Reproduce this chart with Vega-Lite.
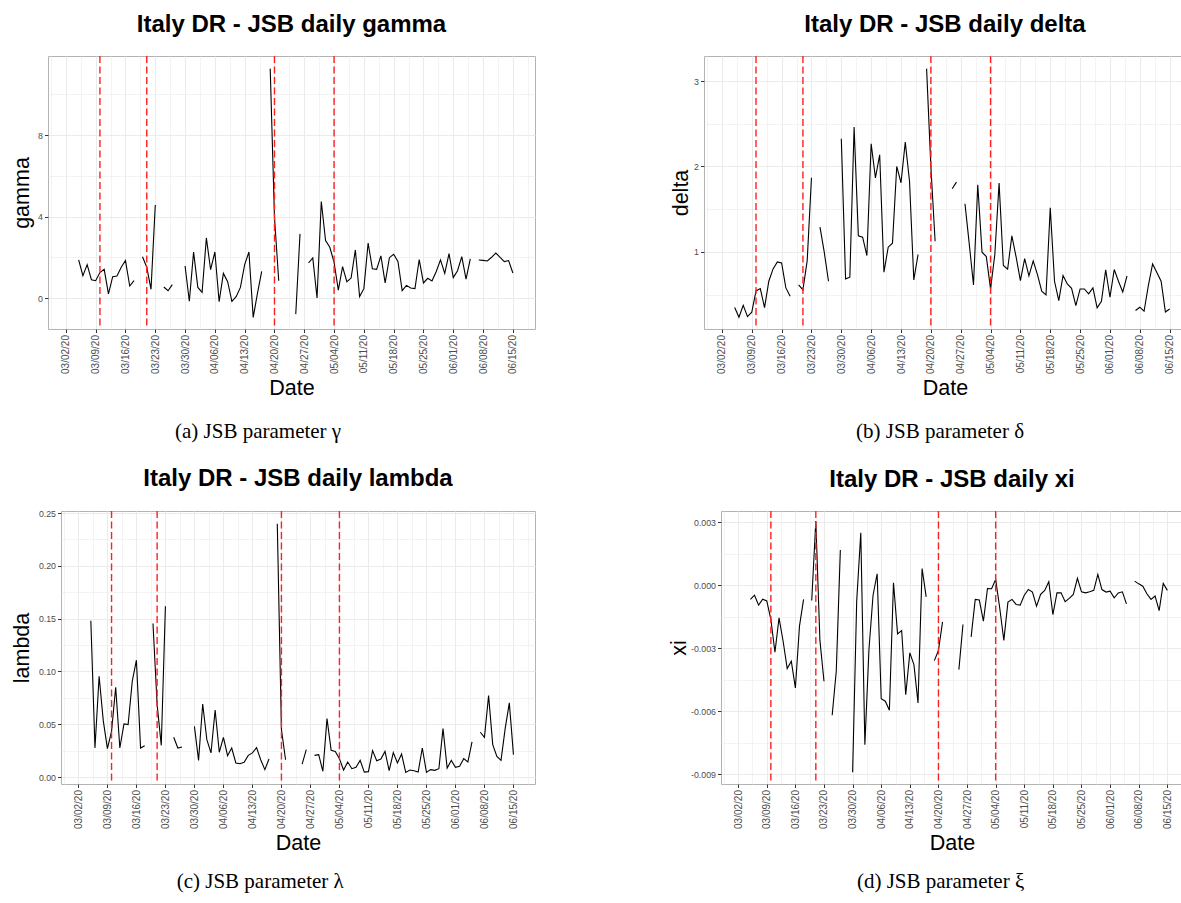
{
 "$schema": "https://vega.github.io/schema/vega-lite/v6.json",
 "background": "white",
 "padding": {"left": 9, "top": 12, "right": 0, "bottom": 0},
 "spacing": 23,
 "align": "none",
 "datasets": {
  "vlines": [{"d": "2020-03-10"}, {"d": "2020-03-21"}, {"d": "2020-04-20"}, {"d": "2020-05-04"}],
  "gamma": [
   {"d":"2020-03-05","v":1.87},{"d":"2020-03-06","v":1.10},{"d":"2020-03-07","v":1.64},{"d":"2020-03-08","v":0.90},{"d":"2020-03-09","v":0.85},{"d":"2020-03-10","v":1.25},{"d":"2020-03-11","v":1.41},{"d":"2020-03-12","v":0.20},{"d":"2020-03-13","v":1.05},{"d":"2020-03-14","v":1.08},{"d":"2020-03-15","v":1.51},{"d":"2020-03-16","v":1.84},{"d":"2020-03-17","v":0.59},{"d":"2020-03-18","v":0.85},{"d":"2020-03-19","v":null},
   {"d":"2020-03-20","v":2.03},{"d":"2020-03-21","v":1.51},{"d":"2020-03-22","v":0.43},{"d":"2020-03-23","v":4.57},{"d":"2020-03-24","v":null},
   {"d":"2020-03-25","v":0.54},{"d":"2020-03-26","v":0.36},{"d":"2020-03-27","v":0.66},{"d":"2020-03-28","v":null},{"d":"2020-03-29","v":null},
   {"d":"2020-03-30","v":1.57},{"d":"2020-03-31","v":-0.16},{"d":"2020-04-01","v":2.26},{"d":"2020-04-02","v":0.52},{"d":"2020-04-03","v":0.28},{"d":"2020-04-04","v":2.95},{"d":"2020-04-05","v":1.39},{"d":"2020-04-06","v":2.26},{"d":"2020-04-07","v":-0.18},{"d":"2020-04-08","v":1.21},{"d":"2020-04-09","v":0.80},{"d":"2020-04-10","v":-0.16},{"d":"2020-04-11","v":0.07},{"d":"2020-04-12","v":0.52},{"d":"2020-04-13","v":1.64},{"d":"2020-04-14","v":2.26},{"d":"2020-04-15","v":-0.95},{"d":"2020-04-16","v":0.23},{"d":"2020-04-17","v":1.31},{"d":"2020-04-18","v":null},
   {"d":"2020-04-19","v":11.26},{"d":"2020-04-20","v":3.97},{"d":"2020-04-21","v":0.85},{"d":"2020-04-22","v":null},{"d":"2020-04-23","v":null},{"d":"2020-04-24","v":null},
   {"d":"2020-04-25","v":-0.79},{"d":"2020-04-26","v":3.15},{"d":"2020-04-27","v":null},
   {"d":"2020-04-28","v":1.72},{"d":"2020-04-29","v":1.97},{"d":"2020-04-30","v":0.00},{"d":"2020-05-01","v":4.74},{"d":"2020-05-02","v":2.82},{"d":"2020-05-03","v":2.49},{"d":"2020-05-04","v":1.75},{"d":"2020-05-05","v":0.39},{"d":"2020-05-06","v":1.54},{"d":"2020-05-07","v":0.80},{"d":"2020-05-08","v":0.98},{"d":"2020-05-09","v":2.36},{"d":"2020-05-10","v":0.07},{"d":"2020-05-11","v":0.46},{"d":"2020-05-12","v":2.70},{"d":"2020-05-13","v":1.44},{"d":"2020-05-14","v":1.41},{"d":"2020-05-15","v":2.07},{"d":"2020-05-16","v":0.74},{"d":"2020-05-17","v":1.98},{"d":"2020-05-18","v":2.15},{"d":"2020-05-19","v":1.80},{"d":"2020-05-20","v":0.36},{"d":"2020-05-21","v":0.62},{"d":"2020-05-22","v":0.49},{"d":"2020-05-23","v":0.46},{"d":"2020-05-24","v":1.89},{"d":"2020-05-25","v":0.74},{"d":"2020-05-26","v":0.97},{"d":"2020-05-27","v":0.84},{"d":"2020-05-28","v":1.30},{"d":"2020-05-29","v":1.87},{"d":"2020-05-30","v":1.21},{"d":"2020-05-31","v":2.18},{"d":"2020-06-01","v":1.00},{"d":"2020-06-02","v":1.34},{"d":"2020-06-03","v":2.03},{"d":"2020-06-04","v":0.93},{"d":"2020-06-05","v":1.92},{"d":"2020-06-06","v":null},
   {"d":"2020-06-07","v":1.87},{"d":"2020-06-08","v":1.85},{"d":"2020-06-09","v":1.82},{"d":"2020-06-10","v":2.00},{"d":"2020-06-11","v":2.21},{"d":"2020-06-12","v":2.00},{"d":"2020-06-13","v":1.79},{"d":"2020-06-14","v":1.84},{"d":"2020-06-15","v":1.23}
  ],
  "delta": [
   {"d":"2020-03-05","v":0.348},{"d":"2020-03-06","v":0.234},{"d":"2020-03-07","v":0.375},{"d":"2020-03-08","v":0.242},{"d":"2020-03-09","v":0.293},{"d":"2020-03-10","v":0.543},{"d":"2020-03-11","v":0.570},{"d":"2020-03-12","v":0.348},{"d":"2020-03-13","v":0.656},{"d":"2020-03-14","v":0.801},{"d":"2020-03-15","v":0.883},{"d":"2020-03-16","v":0.871},{"d":"2020-03-17","v":0.578},{"d":"2020-03-18","v":0.480},{"d":"2020-03-19","v":null},
   {"d":"2020-03-20","v":0.613},{"d":"2020-03-21","v":0.555},{"d":"2020-03-22","v":0.898},{"d":"2020-03-23","v":1.867},{"d":"2020-03-24","v":null},
   {"d":"2020-03-25","v":1.289},{"d":"2020-03-26","v":0.996},{"d":"2020-03-27","v":0.656},{"d":"2020-03-28","v":null},{"d":"2020-03-29","v":null},
   {"d":"2020-03-30","v":2.324},{"d":"2020-03-31","v":0.684},{"d":"2020-04-01","v":0.703},{"d":"2020-04-02","v":2.461},{"d":"2020-04-03","v":1.188},{"d":"2020-04-04","v":1.172},{"d":"2020-04-05","v":0.957},{"d":"2020-04-06","v":2.266},{"d":"2020-04-07","v":1.867},{"d":"2020-04-08","v":2.137},{"d":"2020-04-09","v":0.762},{"d":"2020-04-10","v":1.055},{"d":"2020-04-11","v":1.102},{"d":"2020-04-12","v":2.000},{"d":"2020-04-13","v":1.809},{"d":"2020-04-14","v":2.285},{"d":"2020-04-15","v":1.824},{"d":"2020-04-16","v":0.672},{"d":"2020-04-17","v":0.969},{"d":"2020-04-18","v":null},
   {"d":"2020-04-19","v":3.145},{"d":"2020-04-20","v":2.000},{"d":"2020-04-21","v":1.125},{"d":"2020-04-22","v":null},{"d":"2020-04-23","v":null},{"d":"2020-04-24","v":null},
   {"d":"2020-04-25","v":1.738},{"d":"2020-04-26","v":1.816},{"d":"2020-04-27","v":null},
   {"d":"2020-04-28","v":1.563},{"d":"2020-04-29","v":1.094},{"d":"2020-04-30","v":0.613},{"d":"2020-05-01","v":1.785},{"d":"2020-05-02","v":0.996},{"d":"2020-05-03","v":0.945},{"d":"2020-05-04","v":0.566},{"d":"2020-05-05","v":0.969},{"d":"2020-05-06","v":1.805},{"d":"2020-05-07","v":0.840},{"d":"2020-05-08","v":0.797},{"d":"2020-05-09","v":1.188},{"d":"2020-05-10","v":0.938},{"d":"2020-05-11","v":0.664},{"d":"2020-05-12","v":0.922},{"d":"2020-05-13","v":0.719},{"d":"2020-05-14","v":0.895},{"d":"2020-05-15","v":0.734},{"d":"2020-05-16","v":0.539},{"d":"2020-05-17","v":0.496},{"d":"2020-05-18","v":1.516},{"d":"2020-05-19","v":0.656},{"d":"2020-05-20","v":0.430},{"d":"2020-05-21","v":0.723},{"d":"2020-05-22","v":0.625},{"d":"2020-05-23","v":0.574},{"d":"2020-05-24","v":0.371},{"d":"2020-05-25","v":0.566},{"d":"2020-05-26","v":0.566},{"d":"2020-05-27","v":0.508},{"d":"2020-05-28","v":0.578},{"d":"2020-05-29","v":0.344},{"d":"2020-05-30","v":0.422},{"d":"2020-05-31","v":0.789},{"d":"2020-06-01","v":0.469},{"d":"2020-06-02","v":0.793},{"d":"2020-06-03","v":0.656},{"d":"2020-06-04","v":0.531},{"d":"2020-06-05","v":0.719},{"d":"2020-06-06","v":null},
   {"d":"2020-06-07","v":0.313},{"d":"2020-06-08","v":0.352},{"d":"2020-06-09","v":0.305},{"d":"2020-06-10","v":0.605},{"d":"2020-06-11","v":0.859},{"d":"2020-06-12","v":0.758},{"d":"2020-06-13","v":0.656},{"d":"2020-06-14","v":0.297},{"d":"2020-06-15","v":0.332}
  ],
  "lambda": [
   {"d":"2020-03-05","v":0.148},{"d":"2020-03-06","v":0.0275},{"d":"2020-03-07","v":0.0954},{"d":"2020-03-08","v":0.0534},{"d":"2020-03-09","v":0.0269},{"d":"2020-03-10","v":0.0433},{"d":"2020-03-11","v":0.0850},{"d":"2020-03-12","v":0.0275},{"d":"2020-03-13","v":0.0503},{"d":"2020-03-14","v":0.0496},{"d":"2020-03-15","v":0.0907},{"d":"2020-03-16","v":0.1106},{"d":"2020-03-17","v":0.0275},{"d":"2020-03-18","v":0.0297},{"d":"2020-03-19","v":null},
   {"d":"2020-03-20","v":0.1454},{"d":"2020-03-21","v":0.0686},{"d":"2020-03-22","v":0.0300},{"d":"2020-03-23","v":0.1618},{"d":"2020-03-24","v":null},
   {"d":"2020-03-25","v":0.0376},{"d":"2020-03-26","v":0.0275},{"d":"2020-03-27","v":0.0284},{"d":"2020-03-28","v":null},{"d":"2020-03-29","v":null},
   {"d":"2020-03-30","v":0.0480},{"d":"2020-03-31","v":0.0158},{"d":"2020-04-01","v":0.0692},{"d":"2020-04-02","v":0.0354},{"d":"2020-04-03","v":0.0228},{"d":"2020-04-04","v":0.0635},{"d":"2020-04-05","v":0.0234},{"d":"2020-04-06","v":0.0376},{"d":"2020-04-07","v":0.0202},{"d":"2020-04-08","v":0.0275},{"d":"2020-04-09","v":0.0133},{"d":"2020-04-10","v":0.0126},{"d":"2020-04-11","v":0.0139},{"d":"2020-04-12","v":0.0205},{"d":"2020-04-13","v":0.0228},{"d":"2020-04-14","v":0.0278},{"d":"2020-04-15","v":0.0164},{"d":"2020-04-16","v":0.0070},{"d":"2020-04-17","v":0.0171},{"d":"2020-04-18","v":null},
   {"d":"2020-04-19","v":0.2399},{"d":"2020-04-20","v":0.0450},{"d":"2020-04-21","v":0.0164},{"d":"2020-04-22","v":null},{"d":"2020-04-23","v":null},{"d":"2020-04-24","v":null},
   {"d":"2020-04-25","v":0.0123},{"d":"2020-04-26","v":0.0259},{"d":"2020-04-27","v":null},
   {"d":"2020-04-28","v":0.0205},{"d":"2020-04-29","v":0.0212},{"d":"2020-04-30","v":0.0054},{"d":"2020-05-01","v":0.0553},{"d":"2020-05-02","v":0.0253},{"d":"2020-05-03","v":0.0243},{"d":"2020-05-04","v":0.0174},{"d":"2020-05-05","v":0.0066},{"d":"2020-05-06","v":0.0142},{"d":"2020-05-07","v":0.0079},{"d":"2020-05-08","v":0.0092},{"d":"2020-05-09","v":0.0158},{"d":"2020-05-10","v":0.0047},{"d":"2020-05-11","v":0.0051},{"d":"2020-05-12","v":0.0250},{"d":"2020-05-13","v":0.0155},{"d":"2020-05-14","v":0.0171},{"d":"2020-05-15","v":0.0243},{"d":"2020-05-16","v":0.0060},{"d":"2020-05-17","v":0.0231},{"d":"2020-05-18","v":0.0133},{"d":"2020-05-19","v":0.0218},{"d":"2020-05-20","v":0.0044},{"d":"2020-05-21","v":0.0066},{"d":"2020-05-22","v":0.0060},{"d":"2020-05-23","v":0.0047},{"d":"2020-05-24","v":0.0275},{"d":"2020-05-25","v":0.0044},{"d":"2020-05-26","v":0.0070},{"d":"2020-05-27","v":0.0063},{"d":"2020-05-28","v":0.0079},{"d":"2020-05-29","v":0.0458},{"d":"2020-05-30","v":0.0085},{"d":"2020-05-31","v":0.0158},{"d":"2020-06-01","v":0.0092},{"d":"2020-06-02","v":0.0101},{"d":"2020-06-03","v":0.0174},{"d":"2020-06-04","v":0.0142},{"d":"2020-06-05","v":0.0332},{"d":"2020-06-06","v":null},
   {"d":"2020-06-07","v":0.0424},{"d":"2020-06-08","v":0.0376},{"d":"2020-06-09","v":0.0771},{"d":"2020-06-10","v":0.0307},{"d":"2020-06-11","v":0.0196},{"d":"2020-06-12","v":0.0158},{"d":"2020-06-13","v":0.0458},{"d":"2020-06-14","v":0.0702},{"d":"2020-06-15","v":0.0212}
  ],
  "xi": [
   {"d":"2020-03-05","v":-0.00068},{"d":"2020-03-06","v":-0.00048},{"d":"2020-03-07","v":-0.00095},{"d":"2020-03-08","v":-0.00067},{"d":"2020-03-09","v":-0.00075},{"d":"2020-03-10","v":-0.00163},{"d":"2020-03-11","v":-0.00319},{"d":"2020-03-12","v":-0.00156},{"d":"2020-03-13","v":-0.00267},{"d":"2020-03-14","v":-0.00397},{"d":"2020-03-15","v":-0.00362},{"d":"2020-03-16","v":-0.00489},{"d":"2020-03-17","v":-0.00195},{"d":"2020-03-18","v":-0.00068},{"d":"2020-03-19","v":null},
   {"d":"2020-03-20","v":-0.00073},{"d":"2020-03-21","v":0.00305},{"d":"2020-03-22","v":-0.00263},{"d":"2020-03-23","v":-0.00457},{"d":"2020-03-24","v":null},
   {"d":"2020-03-25","v":-0.00619},{"d":"2020-03-26","v":-0.00410},{"d":"2020-03-27","v":0.00167},{"d":"2020-03-28","v":null},{"d":"2020-03-29","v":null},
   {"d":"2020-03-30","v":-0.00890},{"d":"2020-03-31","v":-0.00076},{"d":"2020-04-01","v":0.00249},{"d":"2020-04-02","v":-0.00759},{"d":"2020-04-03","v":-0.00306},{"d":"2020-04-04","v":-0.00048},{"d":"2020-04-05","v":0.00054},{"d":"2020-04-06","v":-0.00540},{"d":"2020-04-07","v":-0.00552},{"d":"2020-04-08","v":-0.00595},{"d":"2020-04-09","v":0.00011},{"d":"2020-04-10","v":-0.00232},{"d":"2020-04-11","v":-0.00216},{"d":"2020-04-12","v":-0.00521},{"d":"2020-04-13","v":-0.00322},{"d":"2020-04-14","v":-0.00378},{"d":"2020-04-15","v":-0.00560},{"d":"2020-04-16","v":0.00079},{"d":"2020-04-17","v":-0.00056},{"d":"2020-04-18","v":null},
   {"d":"2020-04-19","v":-0.00359},{"d":"2020-04-20","v":-0.00311},{"d":"2020-04-21","v":-0.00175},{"d":"2020-04-22","v":null},{"d":"2020-04-23","v":null},{"d":"2020-04-24","v":null},
   {"d":"2020-04-25","v":-0.00402},{"d":"2020-04-26","v":-0.00187},{"d":"2020-04-27","v":null},
   {"d":"2020-04-28","v":-0.00246},{"d":"2020-04-29","v":-0.00068},{"d":"2020-04-30","v":-0.00071},{"d":"2020-05-01","v":-0.00171},{"d":"2020-05-02","v":-0.00016},{"d":"2020-05-03","v":-0.00017},{"d":"2020-05-04","v":0.00027},{"d":"2020-05-05","v":-0.00110},{"d":"2020-05-06","v":-0.00263},{"d":"2020-05-07","v":-0.00081},{"d":"2020-05-08","v":-0.00068},{"d":"2020-05-09","v":-0.00092},{"d":"2020-05-10","v":-0.00095},{"d":"2020-05-11","v":-0.00048},{"d":"2020-05-12","v":-0.00021},{"d":"2020-05-13","v":-0.00033},{"d":"2020-05-14","v":-0.00100},{"d":"2020-05-15","v":-0.00044},{"d":"2020-05-16","v":-0.00025},{"d":"2020-05-17","v":0.00016},{"d":"2020-05-18","v":-0.00140},{"d":"2020-05-19","v":-0.00037},{"d":"2020-05-20","v":-0.00037},{"d":"2020-05-21","v":-0.00079},{"d":"2020-05-22","v":-0.00063},{"d":"2020-05-23","v":-0.00044},{"d":"2020-05-24","v":0.00032},{"d":"2020-05-25","v":-0.00032},{"d":"2020-05-26","v":-0.00037},{"d":"2020-05-27","v":-0.00032},{"d":"2020-05-28","v":-0.00025},{"d":"2020-05-29","v":0.00051},{"d":"2020-05-30","v":-0.00021},{"d":"2020-05-31","v":-0.00033},{"d":"2020-06-01","v":-0.00029},{"d":"2020-06-02","v":-0.00060},{"d":"2020-06-03","v":-0.00037},{"d":"2020-06-04","v":-0.00032},{"d":"2020-06-05","v":-0.00089},{"d":"2020-06-06","v":null},
   {"d":"2020-06-07","v":0.00019},{"d":"2020-06-08","v":0.00006},{"d":"2020-06-09","v":-0.00005},{"d":"2020-06-10","v":-0.00041},{"d":"2020-06-11","v":-0.00068},{"d":"2020-06-12","v":-0.00052},{"d":"2020-06-13","v":-0.00121},{"d":"2020-06-14","v":0.00008},{"d":"2020-06-15","v":-0.00025}
  ]
 },
 "vconcat": [
  {"hconcat": [
   {"width": 1, "height": 1, "data": {"values": []}, "mark": "point", "view": {"stroke": null}},
   {"hconcat": [
   {"title": {"text": "(a) JSB parameter γ", "orient": "bottom", "anchor": "middle", "font": "Liberation Serif", "fontSize": 21, "fontWeight": "normal", "color": "black", "offset": 22, "dx": -15},
    "vconcat": [{
     "width": 487, "height": 273,
     "title": {"text": "Italy DR - JSB daily gamma", "anchor": "middle", "frame": "group", "font": "Liberation Sans", "fontSize": 24, "fontWeight": "bold", "color": "black", "offset": 18},
     "layer": [
      {"data": {"name": "gamma"}, "mark": {"type": "line", "color": "black", "strokeWidth": 1.1, "invalid": "break-paths-show-domains"},
       "encoding": {
        "x": {"field": "d", "type": "temporal", "scale": {"type": "utc", "domain": [1582744320000, 1592628480000], "nice": false},
         "axis": {"title": "Date", "tickCount": 100, "values": [{"year":2020,"month":2,"date":27,"hours":12,"utc":true},{"year":2020,"month":3,"date":2,"utc":true},{"year":2020,"month":3,"date":5,"hours":12,"utc":true},{"year":2020,"month":3,"date":9,"utc":true},{"year":2020,"month":3,"date":12,"hours":12,"utc":true},{"year":2020,"month":3,"date":16,"utc":true},{"year":2020,"month":3,"date":19,"hours":12,"utc":true},{"year":2020,"month":3,"date":23,"utc":true},{"year":2020,"month":3,"date":26,"hours":12,"utc":true},{"year":2020,"month":3,"date":30,"utc":true},{"year":2020,"month":4,"date":2,"hours":12,"utc":true},{"year":2020,"month":4,"date":6,"utc":true},{"year":2020,"month":4,"date":9,"hours":12,"utc":true},{"year":2020,"month":4,"date":13,"utc":true},{"year":2020,"month":4,"date":16,"hours":12,"utc":true},{"year":2020,"month":4,"date":20,"utc":true},{"year":2020,"month":4,"date":23,"hours":12,"utc":true},{"year":2020,"month":4,"date":27,"utc":true},{"year":2020,"month":4,"date":30,"hours":12,"utc":true},{"year":2020,"month":5,"date":4,"utc":true},{"year":2020,"month":5,"date":7,"hours":12,"utc":true},{"year":2020,"month":5,"date":11,"utc":true},{"year":2020,"month":5,"date":14,"hours":12,"utc":true},{"year":2020,"month":5,"date":18,"utc":true},{"year":2020,"month":5,"date":21,"hours":12,"utc":true},{"year":2020,"month":5,"date":25,"utc":true},{"year":2020,"month":5,"date":28,"hours":12,"utc":true},{"year":2020,"month":6,"date":1,"utc":true},{"year":2020,"month":6,"date":4,"hours":12,"utc":true},{"year":2020,"month":6,"date":8,"utc":true},{"year":2020,"month":6,"date":11,"hours":12,"utc":true},{"year":2020,"month":6,"date":15,"utc":true},{"year":2020,"month":6,"date":18,"hours":12,"utc":true}],
          "labelExpr": "utchours(datum.value) == 12 ? '' : utcFormat(datum.value, '%m/%d/%y')", "labelAngle": 270, "labelAlign": "right", "labelBaseline": "middle", "labelOverlap": false, "labelFontSize": 10, "titlePadding": 4,
          "tickOpacity": {"condition": {"test": "utchours(datum.value) == 12", "value": 0}, "value": 1},
          "gridWidth": {"condition": {"test": "utchours(datum.value) == 12", "value": 0.6}, "value": 1}}},
        "y": {"field": "v", "type": "quantitative", "scale": {"domain": [-1.52, 11.88], "nice": false, "zero": false},
         "axis": {"title": "gamma", "tickCount": 100, "values": [0, 2, 4, 6, 8, 10], "labelExpr": "datum.value % 4 != 0 ? '' : format(datum.value, 'd')", "titlePadding": 4.5,
          "tickOpacity": {"condition": {"test": "datum.value % 4 != 0", "value": 0}, "value": 1},
          "gridWidth": {"condition": {"test": "datum.value % 4 != 0", "value": 0.6}, "value": 1}}}
       }},
      {"data": {"name": "vlines"}, "mark": {"type": "rule", "color": "#ff1f1f", "strokeWidth": 1.4, "strokeDash": [7, 3.5]},
       "encoding": {"x": {"field": "d", "type": "temporal", "scale": {"type": "utc"}}}}
     ]
    }]
   },
   {"title": {"text": "(b) JSB parameter δ", "orient": "bottom", "anchor": "middle", "font": "Liberation Serif", "fontSize": 21, "fontWeight": "normal", "color": "black", "offset": 22, "dx": 10},
    "vconcat": [{
     "width": 482, "height": 273,
     "title": {"text": "Italy DR - JSB daily delta", "anchor": "middle", "frame": "group", "font": "Liberation Sans", "fontSize": 24, "fontWeight": "bold", "color": "black", "offset": 18},
     "layer": [
      {"data": {"name": "delta"}, "mark": {"type": "line", "color": "black", "strokeWidth": 1.1, "invalid": "break-paths-show-domains"},
       "encoding": {
        "x": {"field": "d", "type": "temporal", "scale": {"type": "utc", "domain": [1582744320000, 1592510400000], "nice": false},
         "axis": {"title": "Date", "tickCount": 100, "values": [{"year":2020,"month":2,"date":27,"hours":12,"utc":true},{"year":2020,"month":3,"date":2,"utc":true},{"year":2020,"month":3,"date":5,"hours":12,"utc":true},{"year":2020,"month":3,"date":9,"utc":true},{"year":2020,"month":3,"date":12,"hours":12,"utc":true},{"year":2020,"month":3,"date":16,"utc":true},{"year":2020,"month":3,"date":19,"hours":12,"utc":true},{"year":2020,"month":3,"date":23,"utc":true},{"year":2020,"month":3,"date":26,"hours":12,"utc":true},{"year":2020,"month":3,"date":30,"utc":true},{"year":2020,"month":4,"date":2,"hours":12,"utc":true},{"year":2020,"month":4,"date":6,"utc":true},{"year":2020,"month":4,"date":9,"hours":12,"utc":true},{"year":2020,"month":4,"date":13,"utc":true},{"year":2020,"month":4,"date":16,"hours":12,"utc":true},{"year":2020,"month":4,"date":20,"utc":true},{"year":2020,"month":4,"date":23,"hours":12,"utc":true},{"year":2020,"month":4,"date":27,"utc":true},{"year":2020,"month":4,"date":30,"hours":12,"utc":true},{"year":2020,"month":5,"date":4,"utc":true},{"year":2020,"month":5,"date":7,"hours":12,"utc":true},{"year":2020,"month":5,"date":11,"utc":true},{"year":2020,"month":5,"date":14,"hours":12,"utc":true},{"year":2020,"month":5,"date":18,"utc":true},{"year":2020,"month":5,"date":21,"hours":12,"utc":true},{"year":2020,"month":5,"date":25,"utc":true},{"year":2020,"month":5,"date":28,"hours":12,"utc":true},{"year":2020,"month":6,"date":1,"utc":true},{"year":2020,"month":6,"date":4,"hours":12,"utc":true},{"year":2020,"month":6,"date":8,"utc":true},{"year":2020,"month":6,"date":11,"hours":12,"utc":true},{"year":2020,"month":6,"date":15,"utc":true},{"year":2020,"month":6,"date":18,"hours":12,"utc":true}],
          "labelExpr": "utchours(datum.value) == 12 ? '' : utcFormat(datum.value, '%m/%d/%y')", "labelAngle": 270, "labelAlign": "right", "labelBaseline": "middle", "labelOverlap": false, "labelFontSize": 10, "titlePadding": 4,
          "tickOpacity": {"condition": {"test": "utchours(datum.value) == 12", "value": 0}, "value": 1},
          "gridWidth": {"condition": {"test": "utchours(datum.value) == 12", "value": 0.6}, "value": 1}}},
        "y": {"field": "v", "type": "quantitative", "scale": {"domain": [0.097, 3.293], "nice": false, "zero": false},
         "axis": {"title": "delta", "tickCount": 100, "values": [0.5, 1, 1.5, 2, 2.5, 3], "labelExpr": "datum.value % 1 != 0 ? '' : format(datum.value, 'd')", "titlePadding": 1,
          "tickOpacity": {"condition": {"test": "datum.value % 1 != 0", "value": 0}, "value": 1},
          "gridWidth": {"condition": {"test": "datum.value % 1 != 0", "value": 0.6}, "value": 1}}}
       }},
      {"data": {"name": "vlines"}, "mark": {"type": "rule", "color": "#ff1f1f", "strokeWidth": 1.4, "strokeDash": [7, 3.5]},
       "encoding": {"x": {"field": "d", "type": "temporal", "scale": {"type": "utc"}}}}
     ]
    }]
   }
   ], "spacing": 134, "align": "none"}
  ], "spacing": 0, "align": "none"},
  {"hconcat": [
   {"width": 1, "height": 1, "data": {"values": []}, "mark": "point", "view": {"stroke": null}},
   {"hconcat": [
   {"title": {"text": "(c) JSB parameter λ", "orient": "bottom", "anchor": "middle", "font": "Liberation Serif", "fontSize": 21, "fontWeight": "normal", "color": "black", "offset": 17, "dx": -13},
    "vconcat": [{
     "width": 474, "height": 273,
     "title": {"text": "Italy DR - JSB daily lambda", "anchor": "middle", "frame": "group", "font": "Liberation Sans", "fontSize": 24, "fontWeight": "bold", "color": "black", "offset": 18},
     "layer": [
      {"data": {"name": "lambda"}, "mark": {"type": "line", "color": "black", "strokeWidth": 1.1, "invalid": "break-paths-show-domains"},
       "encoding": {
        "x": {"field": "d", "type": "temporal", "scale": {"type": "utc", "domain": [1582744320000, 1592628480000], "nice": false},
         "axis": {"title": "Date", "tickCount": 100, "values": [{"year":2020,"month":2,"date":27,"hours":12,"utc":true},{"year":2020,"month":3,"date":2,"utc":true},{"year":2020,"month":3,"date":5,"hours":12,"utc":true},{"year":2020,"month":3,"date":9,"utc":true},{"year":2020,"month":3,"date":12,"hours":12,"utc":true},{"year":2020,"month":3,"date":16,"utc":true},{"year":2020,"month":3,"date":19,"hours":12,"utc":true},{"year":2020,"month":3,"date":23,"utc":true},{"year":2020,"month":3,"date":26,"hours":12,"utc":true},{"year":2020,"month":3,"date":30,"utc":true},{"year":2020,"month":4,"date":2,"hours":12,"utc":true},{"year":2020,"month":4,"date":6,"utc":true},{"year":2020,"month":4,"date":9,"hours":12,"utc":true},{"year":2020,"month":4,"date":13,"utc":true},{"year":2020,"month":4,"date":16,"hours":12,"utc":true},{"year":2020,"month":4,"date":20,"utc":true},{"year":2020,"month":4,"date":23,"hours":12,"utc":true},{"year":2020,"month":4,"date":27,"utc":true},{"year":2020,"month":4,"date":30,"hours":12,"utc":true},{"year":2020,"month":5,"date":4,"utc":true},{"year":2020,"month":5,"date":7,"hours":12,"utc":true},{"year":2020,"month":5,"date":11,"utc":true},{"year":2020,"month":5,"date":14,"hours":12,"utc":true},{"year":2020,"month":5,"date":18,"utc":true},{"year":2020,"month":5,"date":21,"hours":12,"utc":true},{"year":2020,"month":5,"date":25,"utc":true},{"year":2020,"month":5,"date":28,"hours":12,"utc":true},{"year":2020,"month":6,"date":1,"utc":true},{"year":2020,"month":6,"date":4,"hours":12,"utc":true},{"year":2020,"month":6,"date":8,"utc":true},{"year":2020,"month":6,"date":11,"hours":12,"utc":true},{"year":2020,"month":6,"date":15,"utc":true},{"year":2020,"month":6,"date":18,"hours":12,"utc":true}],
          "labelExpr": "utchours(datum.value) == 12 ? '' : utcFormat(datum.value, '%m/%d/%y')", "labelAngle": 270, "labelAlign": "right", "labelBaseline": "middle", "labelOverlap": false, "labelFontSize": 10, "titlePadding": 4,
          "tickOpacity": {"condition": {"test": "utchours(datum.value) == 12", "value": 0}, "value": 1},
          "gridWidth": {"condition": {"test": "utchours(datum.value) == 12", "value": 0.6}, "value": 1}}},
        "y": {"field": "v", "type": "quantitative", "scale": {"domain": [-0.0066, 0.2519], "nice": false, "zero": false},
         "axis": {"title": "lambda", "tickCount": 100, "values": [0, 0.025, 0.05, 0.075, 0.1, 0.125, 0.15, 0.175, 0.2, 0.225, 0.25], "labelExpr": "round(datum.value * 40) % 2 != 0 ? '' : format(datum.value, '.2f')", "titlePadding": 5,
          "tickOpacity": {"condition": {"test": "round(datum.value * 40) % 2 != 0", "value": 0}, "value": 1},
          "gridWidth": {"condition": {"test": "round(datum.value * 40) % 2 != 0", "value": 0.6}, "value": 1}}}
       }},
      {"data": {"name": "vlines"}, "mark": {"type": "rule", "color": "#ff1f1f", "strokeWidth": 1.4, "strokeDash": [7, 3.5]},
       "encoding": {"x": {"field": "d", "type": "temporal", "scale": {"type": "utc"}}}}
     ]
    }]
   },
   {"title": {"text": "(d) JSB parameter ξ", "orient": "bottom", "anchor": "middle", "font": "Liberation Serif", "fontSize": 21, "fontWeight": "normal", "color": "black", "offset": 17, "dx": 13},
    "vconcat": [{
     "width": 462, "height": 273,
     "title": {"text": "Italy DR - JSB daily xi", "anchor": "middle", "frame": "group", "font": "Liberation Sans", "fontSize": 24, "fontWeight": "bold", "color": "black", "offset": 18},
     "layer": [
      {"data": {"name": "xi"}, "mark": {"type": "line", "color": "black", "strokeWidth": 1.1, "invalid": "break-paths-show-domains"},
       "encoding": {
        "x": {"field": "d", "type": "temporal", "scale": {"type": "utc", "domain": [1582744320000, 1592510400000], "nice": false},
         "axis": {"title": "Date", "tickCount": 100, "values": [{"year":2020,"month":2,"date":27,"hours":12,"utc":true},{"year":2020,"month":3,"date":2,"utc":true},{"year":2020,"month":3,"date":5,"hours":12,"utc":true},{"year":2020,"month":3,"date":9,"utc":true},{"year":2020,"month":3,"date":12,"hours":12,"utc":true},{"year":2020,"month":3,"date":16,"utc":true},{"year":2020,"month":3,"date":19,"hours":12,"utc":true},{"year":2020,"month":3,"date":23,"utc":true},{"year":2020,"month":3,"date":26,"hours":12,"utc":true},{"year":2020,"month":3,"date":30,"utc":true},{"year":2020,"month":4,"date":2,"hours":12,"utc":true},{"year":2020,"month":4,"date":6,"utc":true},{"year":2020,"month":4,"date":9,"hours":12,"utc":true},{"year":2020,"month":4,"date":13,"utc":true},{"year":2020,"month":4,"date":16,"hours":12,"utc":true},{"year":2020,"month":4,"date":20,"utc":true},{"year":2020,"month":4,"date":23,"hours":12,"utc":true},{"year":2020,"month":4,"date":27,"utc":true},{"year":2020,"month":4,"date":30,"hours":12,"utc":true},{"year":2020,"month":5,"date":4,"utc":true},{"year":2020,"month":5,"date":7,"hours":12,"utc":true},{"year":2020,"month":5,"date":11,"utc":true},{"year":2020,"month":5,"date":14,"hours":12,"utc":true},{"year":2020,"month":5,"date":18,"utc":true},{"year":2020,"month":5,"date":21,"hours":12,"utc":true},{"year":2020,"month":5,"date":25,"utc":true},{"year":2020,"month":5,"date":28,"hours":12,"utc":true},{"year":2020,"month":6,"date":1,"utc":true},{"year":2020,"month":6,"date":4,"hours":12,"utc":true},{"year":2020,"month":6,"date":8,"utc":true},{"year":2020,"month":6,"date":11,"hours":12,"utc":true},{"year":2020,"month":6,"date":15,"utc":true},{"year":2020,"month":6,"date":18,"hours":12,"utc":true}],
          "labelExpr": "utchours(datum.value) == 12 ? '' : utcFormat(datum.value, '%m/%d/%y')", "labelAngle": 270, "labelAlign": "right", "labelBaseline": "middle", "labelOverlap": false, "labelFontSize": 10, "titlePadding": 4,
          "tickOpacity": {"condition": {"test": "utchours(datum.value) == 12", "value": 0}, "value": 1},
          "gridWidth": {"condition": {"test": "utchours(datum.value) == 12", "value": 0.6}, "value": 1}}},
        "y": {"field": "v", "type": "quantitative", "scale": {"domain": [-0.009457, 0.003524], "nice": false, "zero": false},
         "axis": {"title": "xi", "tickCount": 100, "values": [-0.009, -0.0075, -0.006, -0.0045, -0.003, -0.0015, 0, 0.0015, 0.003], "labelExpr": "round(datum.value / 0.0015) % 2 != 0 ? '' : replace(format(datum.value, '.3f'), '\u2212', '-')", "titlePadding": 0,
          "tickOpacity": {"condition": {"test": "round(datum.value / 0.0015) % 2 != 0", "value": 0}, "value": 1},
          "gridWidth": {"condition": {"test": "round(datum.value / 0.0015) % 2 != 0", "value": 0.6}, "value": 1}}}
       }},
      {"data": {"name": "vlines"}, "mark": {"type": "rule", "color": "#ff1f1f", "strokeWidth": 1.4, "strokeDash": [7, 3.5]},
       "encoding": {"x": {"field": "d", "type": "temporal", "scale": {"type": "utc"}}}}
     ]
    }]
   }
   ], "spacing": 132, "align": "none"}
  ], "spacing": 0, "align": "none"}
 ],
 "config": {
  "font": "Liberation Sans",
  "view": {"stroke": "#b3b3b3", "strokeWidth": 1},
  "axis": {"domain": false, "gridColor": "#ebebeb", "tickColor": "#333333", "tickSize": 3.5, "labelColor": "#4d4d4d", "labelFont": "Liberation Sans", "labelFontSize": 8.8, "labelPadding": 2, "titleFont": "Liberation Sans", "titleFontSize": 21.5, "titleFontWeight": "normal", "titleColor": "black"}
 }
}
